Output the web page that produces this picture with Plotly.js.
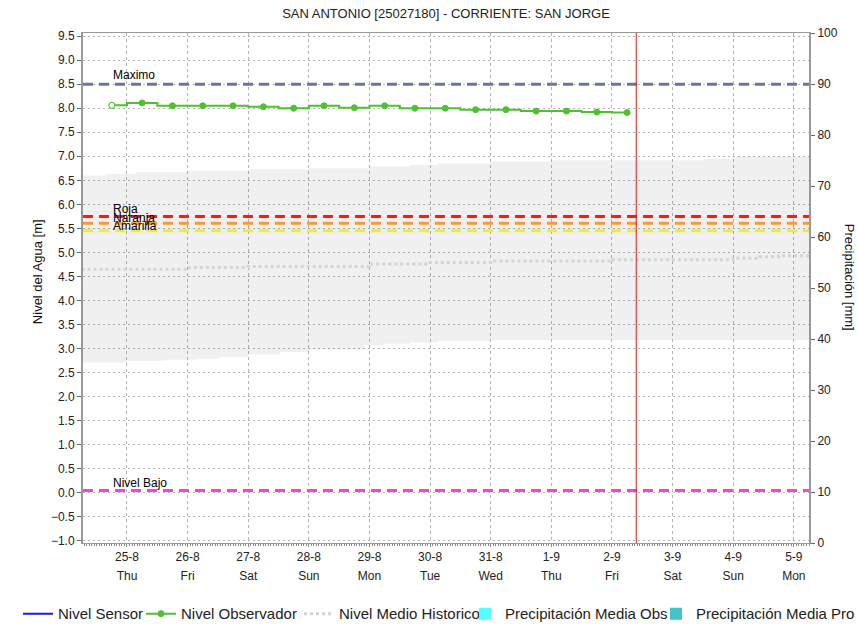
<!DOCTYPE html>
<html>
<head>
<meta charset="utf-8">
<script src="https://cdn.plot.ly/plotly-3.0.1.min.js"></script>
<style>html,body{margin:0;padding:0;background:#fff;}#chart{width:858px;height:630px;}</style>
</head>
<body>
<div id="chart"></div>
<script>
// ---- data ----
var chartTitle = 'SAN ANTONIO [25027180] - CORRIENTE: SAN JORGE';
var tickDates = ['2022-08-25','2022-08-26','2022-08-27','2022-08-28','2022-08-29','2022-08-30','2022-08-31','2022-09-01','2022-09-02','2022-09-03','2022-09-04','2022-09-05'];
var tickDayLabels = ['25-8','26-8','27-8','28-8','29-8','30-8','31-8','1-9','2-9','3-9','4-9','5-9'];
var tickWeekLabels = ['Thu','Fri','Sat','Sun','Mon','Tue','Wed','Thu','Fri','Sat','Sun','Mon'];
var xRange = ['2022-08-24 06:35','2022-09-05 06:00'];

var obsTimes = ['2022-08-24 18:00','2022-08-25 06:00','2022-08-25 18:00','2022-08-26 06:00','2022-08-26 18:00','2022-08-27 06:00','2022-08-27 18:00','2022-08-28 06:00','2022-08-28 18:00','2022-08-29 06:00','2022-08-29 18:00','2022-08-30 06:00','2022-08-30 18:00','2022-08-31 06:00','2022-08-31 18:00','2022-09-01 06:00','2022-09-01 18:00','2022-09-02 06:00'];
var obsLevels = [8.06, 8.11, 8.05, 8.05, 8.05, 8.03, 8.00, 8.05, 8.01, 8.05, 8.00, 8.00, 7.97, 7.97, 7.94, 7.94, 7.92, 7.91];

// sensor: no readings shown in the picture
var sensorTimes = ['2022-08-25 00:00', '2022-08-26 00:00'];
var sensorLevels = [null, null];

var bandUpperTimes = ['2022-08-24 06:00','2022-08-24 15:30','2022-08-25 03:30','2022-08-26 00:00','2022-08-27 00:00','2022-08-28 00:00','2022-08-29 00:00','2022-08-29 16:00','2022-08-30 03:00','2022-08-31 00:00','2022-09-01 00:00','2022-09-03 12:30','2022-09-04 00:00','2022-09-05 06:00'];
var bandUpper = [6.60, 6.63, 6.67, 6.70, 6.73, 6.75, 6.79, 6.82, 6.85, 6.89, 6.92, 6.95, 6.99, 6.99];
var bandLowerTimes = ['2022-08-24 06:00','2022-08-25 00:00','2022-08-25 15:30','2022-08-26 03:30','2022-08-26 12:45','2022-08-27 00:00','2022-08-27 12:40','2022-08-28 00:00','2022-08-28 21:40','2022-08-29 05:15','2022-08-29 16:00','2022-08-30 03:15','2022-08-31 00:00','2022-09-05 06:00'];
var bandLower = [2.71, 2.75, 2.77, 2.79, 2.83, 2.88, 2.93, 2.98, 3.07, 3.10, 3.13, 3.16, 3.18, 3.18];

var meanTimes = ['2022-08-24 06:00','2022-08-26 00:00','2022-08-27 00:00','2022-08-29 00:00','2022-08-30 00:00','2022-08-31 00:00','2022-09-02 00:00','2022-09-04 00:00','2022-09-04 10:30','2022-09-04 18:00','2022-09-05 06:00'];
var meanLevels = [4.65, 4.685, 4.71, 4.76, 4.79, 4.82, 4.85, 4.88, 4.91, 4.93, 4.96];

// precipitation: no rain visible (0 mm)
var precipObsTimes = ['2022-08-25','2022-08-26','2022-08-27','2022-08-28','2022-08-29','2022-08-30','2022-08-31','2022-09-01','2022-09-02'];
var precipObs = [0, 0, 0, 0, 0, 0, 0, 0, 0];
var precipProTimes = ['2022-09-03','2022-09-04','2022-09-05'];
var precipPro = [0, 0, 0];

var thresholdNames = ['Maximo', 'Roja', 'Naranja', 'Amarilla', 'Nivel Bajo'];
var thresholdLevels = [8.5, 5.75, 5.61, 5.45, 0.05];
var thresholdColors = ['#6b7598', '#ff1a1a', '#ff9a22', '#f2ee22', '#ee44ee'];
var thresholdShift = [9, 7, 5, 5, 7];

var nowTime = '2022-09-02 09:36';

var yLeftRange = [-1.042, 9.564];
var yRightRange = [0, 100];

// ---- styles ----
var FONT = 'Liberation Sans, Arial, sans-serif';
var green = '#4cc22e';

var traces = [
  { x: bandLowerTimes, y: bandLower, type: 'scatter', mode: 'lines', line: { width: 0, shape: 'hv' }, showlegend: false, hoverinfo: 'skip' },
  { x: bandUpperTimes, y: bandUpper, type: 'scatter', mode: 'lines', line: { width: 0, shape: 'hv' }, fill: 'tonexty', fillcolor: 'rgba(0,0,0,0.058)', showlegend: false, hoverinfo: 'skip' },
  { x: sensorTimes, y: sensorLevels, type: 'scatter', mode: 'lines', name: 'Nivel Sensor', line: { color: '#1a1aee', width: 2 }, legend: 'legend', showlegend: true },
  { x: obsTimes, y: obsLevels, type: 'scatter', mode: 'lines+markers', name: 'Nivel Observador', line: { color: green, width: 2, shape: 'hvh' }, marker: { symbol: 'circle', size: 6, color: green, line: { color: green, width: 1 } }, legend: 'legend2' },
  { x: obsTimes.slice(0, 1), y: obsLevels.slice(0, 1), type: 'scatter', mode: 'markers', marker: { symbol: 'circle', size: 6, color: '#ffffff', line: { color: green, width: 1 } }, showlegend: false, hoverinfo: 'skip' },
  { x: meanTimes, y: meanLevels, type: 'scatter', mode: 'lines', name: 'Nivel Medio Historico', line: { color: '#d4d4d4', width: 3, dash: 'dot', shape: 'hv' }, legend: 'legend3' },
  { x: precipObsTimes, y: precipObs, type: 'bar', yaxis: 'y2', name: 'Precipitación Media Obs', marker: { color: '#55ffff', line: { width: 0 } }, legend: 'legend4', showlegend: true },
  { x: precipProTimes, y: precipPro, type: 'bar', yaxis: 'y2', name: 'Precipitación Media Pro', marker: { color: '#44c4c4', line: { width: 0 } }, legend: 'legend5', showlegend: true },
  { x: [], y: [], type: 'scatter', xaxis: 'x2', showlegend: false, hoverinfo: 'skip' }
];

var shapes = thresholdLevels.map(function (v, i) {
  return { type: 'line', xref: 'paper', x0: 0, x1: 1, yref: 'y', y0: v, y1: v, line: { color: thresholdColors[i], width: 3, dash: '10px,6px' } };
});
shapes.push({ type: 'line', xref: 'x', x0: nowTime, x1: nowTime, yref: 'paper', y0: 0, y1: 1, line: { color: '#ee1111', width: 1 } });

var annotations = thresholdLevels.map(function (v, i) {
  return { text: thresholdNames[i], xref: 'paper', x: 0.039, xanchor: 'left', yref: 'y', y: v, yanchor: 'middle', yshift: thresholdShift[i], showarrow: false, font: { family: FONT, size: 12, color: '#000' } };
});
annotations.push({ text: 'Nivel del Agua [m]', xref: 'paper', x: -0.0634, xanchor: 'center', yref: 'paper', y: 0.533, yanchor: 'middle', textangle: -90, showarrow: false, font: { family: FONT, size: 13, color: '#111' } });
annotations.push({ text: 'Precipitación [mm]', xref: 'paper', x: (849 - 83) / 726, xanchor: 'center', yref: 'paper', y: 0.52, yanchor: 'middle', textangle: 90, showarrow: false, font: { family: FONT, size: 13, color: '#111' } });

function leg(xpx) {
  return { orientation: 'h', x: (xpx - 83) / 726, xanchor: 'left', y: -0.139, yanchor: 'middle', bgcolor: 'rgba(0,0,0,0)', borderwidth: 0, itemwidth: 30, font: { family: FONT, size: 15, color: '#222' } };
}

var layout = {
  width: 858, height: 630,
  margin: { l: 83, r: 49, t: 33, b: 87, autoexpand: false },
  paper_bgcolor: '#fff', plot_bgcolor: '#fff',
  font: { family: FONT, size: 12, color: '#222' },
  title: { text: chartTitle, x: 0.5, xref: 'paper', xanchor: 'center', y: 0.978, yref: 'container', yanchor: 'middle', font: { family: FONT, size: 13, color: '#222' } },
  showlegend: true,
  barmode: 'overlay',
  xaxis: {
    type: 'date', range: xRange, tickmode: 'array', tickvals: tickDates, ticktext: tickDayLabels,
    showgrid: true, gridcolor: '#b4b4b4', griddash: '3px,3px', gridwidth: 1,
    showline: true, linecolor: '#999', linewidth: 1, mirror: true,
    ticks: 'outside', ticklen: 3, tickcolor: '#888',
    minor: { dtick: 3600000, ticks: 'outside', ticklen: 2, tickcolor: '#888', showgrid: false },
    tickfont: { family: FONT, size: 12, color: '#222' }, zeroline: false
  },
  xaxis2: {
    type: 'date', overlaying: 'x', anchor: 'y', side: 'bottom', range: xRange, tickmode: 'array', tickvals: tickDates, ticktext: tickWeekLabels,
    showgrid: false, showline: false, ticks: '', ticklabelstandoff: 24, tickfont: { family: FONT, size: 12, color: '#222' }, zeroline: false
  },
  yaxis: {
    range: yLeftRange, dtick: 0.5, tick0: 0, tickformat: '.1f',
    showgrid: true, gridcolor: '#b4b4b4', griddash: '2px,3px', gridwidth: 1,
    showline: true, linecolor: '#999', linewidth: 2,
    ticks: 'outside', ticklen: 4, tickcolor: '#666',
    tickfont: { family: FONT, size: 12, color: '#222' }, zeroline: false
  },
  yaxis2: {
    overlaying: 'y', side: 'right', range: yRightRange, dtick: 10,
    showgrid: false, showline: true, linecolor: '#999', linewidth: 2,
    ticks: 'outside', ticklen: 4, tickcolor: '#666',
    tickfont: { family: FONT, size: 12, color: '#222' }, zeroline: false
  },
  legend: leg(18), legend2: leg(141), legend3: leg(299), legend4: leg(465), legend5: leg(656),
  shapes: shapes,
  annotations: annotations
};

Plotly.newPlot('chart', traces, layout, { displayModeBar: false, staticPlot: true });
</script>
</body>
</html>
